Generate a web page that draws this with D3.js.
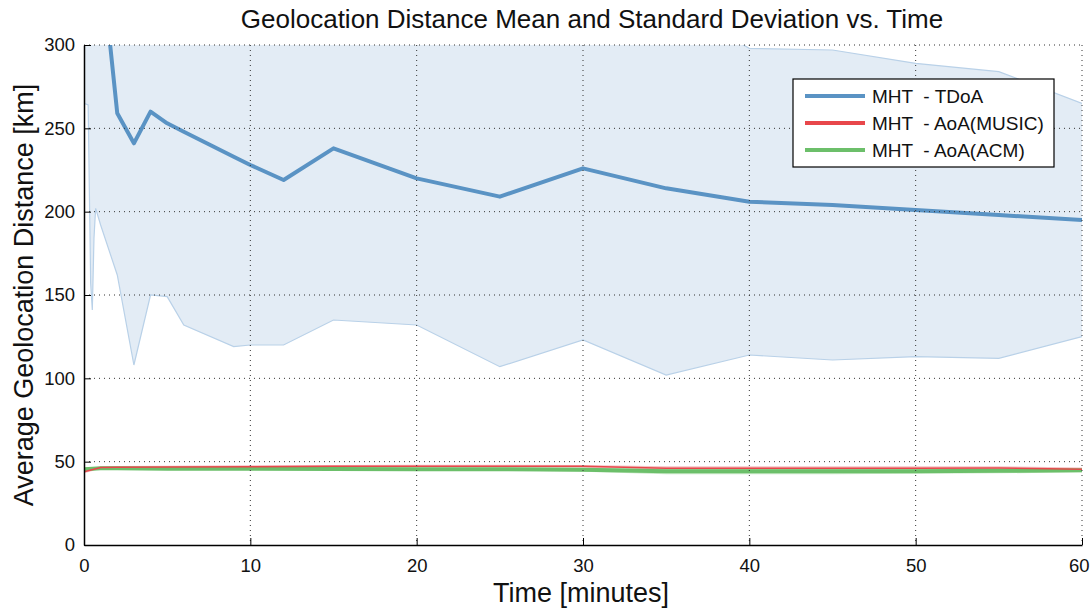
<!DOCTYPE html>
<html>
<head>
<meta charset="utf-8">
<script src="https://cdn.jsdelivr.net/npm/d3@7"></script>
<style>
    html, body { margin: 0; padding: 0; background: #fff; }
    svg { display: block; font-family: "Liberation Sans", Arial, sans-serif; }
</style>
</head>
<body>
<svg id="chart" width="1090" height="610"></svg>
<script>
// TDoA: mean and std per sample time (minutes)
const tdoaTime = [0, 0.25, 0.4, 0.5, 0.6, 0.7, 1, 2, 3, 4, 5, 6, 9, 10, 12, 15, 20, 25, 30, 35, 40, 45, 50, 55, 60];
const tdoaMean = [430, 410, 395, 385, 375, 368, 355, 259, 241, 260, 253, 248, 233, 228, 219, 238, 220, 209, 226, 214, 206, 204, 201, 198, 195];
const tdoaStd  = [165, 146, 238, 244, 191, 166, 163, 97, 133, 110, 104, 116, 114, 108, 99, 103, 88, 102, 103, 112, 92, 93, 88, 86, 70];

// AoA series share one time grid
const aoaTime   = [0, 1, 2, 5, 10, 15, 20, 25, 30, 35, 40, 45, 50, 55, 60];
const musicMean = [44, 46.5, 46.6, 46.8, 47, 47.2, 47.3, 47.3, 47.2, 46, 46, 46, 46, 46.2, 45.5];
const musicStd  = [1, 0.8, 0.8, 0.8, 0.8, 0.8, 0.8, 0.8, 0.8, 1.2, 1.2, 1.2, 1.2, 1, 1];
const acmMean   = [45.5, 46, 46, 45.8, 45.8, 45.6, 45.5, 45.5, 45.2, 44.3, 44.3, 44.2, 44.3, 44.5, 44.8];
const acmStd    = [0.5, 0.6, 0.6, 0.6, 0.6, 0.6, 0.6, 0.8, 1.2, 1.8, 1.8, 1.8, 1.5, 1.5, 1.2];

const xTicks = [0, 10, 20, 30, 40, 50, 60];
const yTicks = [0, 50, 100, 150, 200, 250, 300];
const legendLabels = ['MHT  - TDoA', 'MHT  - AoA(MUSIC)', 'MHT  - AoA(ACM)'];

const margin = { top: 45, right: 8, bottom: 65, left: 84 };
const W = 1090, H = 610;
const iw = W - margin.left - margin.right;
const ih = H - margin.top - margin.bottom;

const svg = d3.select('#chart');
const g = svg.append('g').attr('transform', `translate(${margin.left},${margin.top})`);

const x = d3.scaleLinear().domain([0, 60]).range([0, iw]);
const y = d3.scaleLinear().domain([0, 300]).range([ih, 0]);

svg.append('defs').append('clipPath').attr('id', 'plot-clip')
    .append('rect').attr('x', 0).attr('y', 0).attr('width', iw).attr('height', ih);

const plot = g.append('g').attr('clip-path', 'url(#plot-clip)');

function bandRows(time, mean, std) {
    return time.map((t, i) => ({ t, m: mean[i], s: std[i] }));
}
const tdoa = bandRows(tdoaTime, tdoaMean, tdoaStd);
const music = bandRows(aoaTime, musicMean, musicStd);
const acm = bandRows(aoaTime, acmMean, acmStd);

const area = d3.area().x(d => x(d.t)).y0(d => y(d.m - d.s)).y1(d => y(d.m + d.s));
const line = d3.line().x(d => x(d.t)).y(d => y(d.m));
const lowEdge = d3.line().x(d => x(d.t)).y(d => y(d.m - d.s));
const highEdge = d3.line().x(d => x(d.t)).y(d => y(d.m + d.s));

// TDoA std band
plot.append('path').datum(tdoa).attr('d', area).attr('fill', '#e3ecf5');
[lowEdge, highEdge].forEach(gen => {
    plot.append('path').datum(tdoa).attr('d', gen)
        .attr('fill', 'none').attr('stroke', '#b9d1e8').attr('stroke-width', 1.2);
});

// AoA bands
plot.append('path').datum(music).attr('d', area).attr('fill', '#f3b3b4').attr('opacity', 0.8);
plot.append('path').datum(acm).attr('d', area).attr('fill', '#c4e6c2').attr('opacity', 0.9);

// Dotted grid (drawn over the bands, like MATLAB)
const grid = g.append('g');
xTicks.filter(v => v > 0).forEach(v => {
    grid.append('line').attr('x1', x(v)).attr('x2', x(v)).attr('y1', 0).attr('y2', ih)
        .attr('stroke', '#333').attr('stroke-width', 1).attr('stroke-dasharray', '1,4');
});
yTicks.filter(v => v > 0).forEach(v => {
    grid.append('line').attr('x1', 0).attr('x2', iw).attr('y1', y(v)).attr('y2', y(v))
        .attr('stroke', '#333').attr('stroke-width', 1).attr('stroke-dasharray', '1,4');
});

// Mean lines
plot.append('path').datum(tdoa).attr('d', line)
    .attr('fill', 'none').attr('stroke', '#5a93c4').attr('stroke-width', 4).attr('stroke-linejoin', 'round');
plot.append('path').datum(acm).attr('d', line)
    .attr('fill', 'none').attr('stroke', '#6cbf6a').attr('stroke-width', 4);
plot.append('path').datum(music).attr('d', line)
    .attr('fill', 'none').attr('stroke', '#e8474b').attr('stroke-width', 1.5);

// Axes (left + bottom only, ticks pointing inward)
const xAxis = g.append('g').attr('transform', `translate(0,${ih})`)
    .call(d3.axisBottom(x).tickValues(xTicks).tickSizeInner(-7).tickSizeOuter(0).tickPadding(14));
const yAxis = g.append('g')
    .call(d3.axisLeft(y).tickValues(yTicks).tickSizeInner(-7).tickSizeOuter(0).tickPadding(12));
[xAxis, yAxis].forEach(a => {
    a.select('.domain').attr('stroke', '#000').attr('stroke-width', 1.5);
    a.selectAll('.tick line').attr('stroke', '#000').attr('stroke-width', 1);
    a.selectAll('.tick text').attr('font-size', 18.5).attr('fill', '#111')
        .attr('font-family', '"Liberation Sans", Arial, sans-serif');
});
yAxis.selectAll('.tick text').attr('dx', 3);
// last x label sits at the window edge: keep it inside
xAxis.selectAll('.tick text').filter(d => d === 60).attr('text-anchor', 'end').attr('dx', 7);

// Title and axis labels
svg.append('text').attr('x', margin.left + iw / 2 + 9).attr('y', 28)
    .attr('text-anchor', 'middle').attr('font-size', 26).attr('fill', '#111')
    .text('Geolocation Distance Mean and Standard Deviation vs. Time');
svg.append('text').attr('x', margin.left + iw / 2 - 2).attr('y', 602)
    .attr('text-anchor', 'middle').attr('font-size', 27).attr('fill', '#111')
    .text('Time [minutes]');
svg.append('text')
    .attr('transform', `translate(33,${margin.top + ih / 2}) rotate(-90)`)
    .attr('text-anchor', 'middle').attr('font-size', 27).attr('fill', '#111')
    .text('Average Geolocation Distance [km]');

// Legend
const legendColors = ['#5a93c4', '#e8474b', '#6cbf6a'];
const lg = svg.append('g').attr('transform', 'translate(793,79)');
lg.append('rect').attr('width', 261).attr('height', 88)
    .attr('fill', '#fff').attr('stroke', '#000').attr('stroke-width', 1.2);
legendLabels.forEach((lab, i) => {
    const ly = 17 + i * 27;
    lg.append('line').attr('x1', 12).attr('x2', 72).attr('y1', ly).attr('y2', ly)
        .attr('stroke', legendColors[i]).attr('stroke-width', 4);
    lg.append('text').attr('x', 79).attr('y', ly).attr('dy', '0.36em')
        .attr('font-size', 19).attr('fill', '#111').style('white-space', 'pre')
        .text(lab);
});
</script>
</body>
</html>
